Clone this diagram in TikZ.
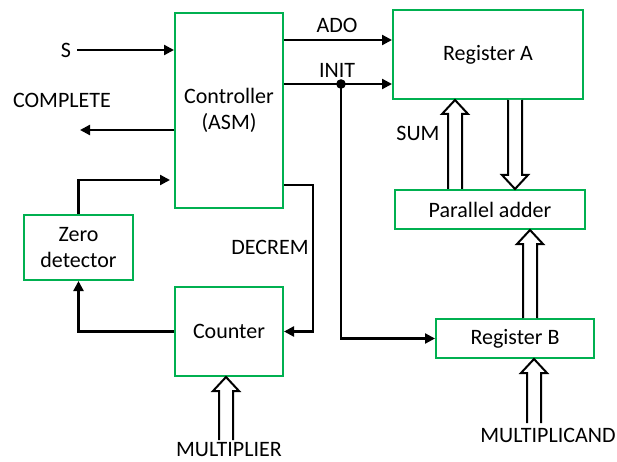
\documentclass[tikz,border=0pt]{standalone}
\usepackage{fontspec}
\setmainfont{Carlito}
\usetikzlibrary{arrows.meta,calc}
\definecolor{boxgreen}{RGB}{0,176,80}
\newcommand{\blockarrow}[2]{%
  \draw[hol] let \p1=#1, \p2=#2, \n1={\y2-sign(\y2-\y1)*14pt} in
  (\x1-7pt,\y1) -- (\x1-7pt,{\n1*1pt}) -- (\x1-13pt,{\n1*1pt}) -- (\x1,\y2)
  -- (\x1+13pt,{\n1*1pt}) -- (\x1+7pt,{\n1*1pt}) -- (\x1+7pt,\y1);}
\begin{document}
\begin{tikzpicture}[x=1pt,y=-1pt,
  font=\fontsize{22}{26.5}\selectfont,
  blk/.style={draw=boxgreen,line width=2pt,inner sep=0pt,align=center},
  arr/.style={draw=black,line width=2.3pt,-{Triangle[length=10pt,width=10pt]}},
  hol/.style={draw=black,line width=2pt,line join=miter,fill=white},
  lbl/.style={inner sep=0pt}]
\useasboundingbox (0,0) rectangle (617,462);
% boxes
\node[blk,minimum width=108pt,minimum height=195pt] (ctr) at (229,110.5) {Controller\\(ASM)};
\node[blk,minimum width=190pt,minimum height=89pt] (ra) at (488,54.5) {Register A};
\node[blk,minimum width=190pt,minimum height=39pt] (pa) at (490,209.5) {Parallel adder};
\node[blk,minimum width=158pt,minimum height=39pt] (rb) at (515,338.5) {Register B};
\node[blk,minimum width=109pt,minimum height=65pt] (zd) at (78.5,247.5) {Zero\\detector};
\node[blk,minimum width=108pt,minimum height=89pt] (cnt) at (229,331.5) {Counter};
% labels
\node[lbl] (s) at (66,50) {S};
\node[lbl] (cmpl) at (62,100) {COMPLETE};
\node[lbl] (ado) at (337,25) {ADO};
\node[lbl] (init) at (337,70) {INIT};
\node[lbl] (dec) at (270,247) {DECREM};
\node[lbl] (sum) at (418,133) {SUM};
\node[lbl] (mpl) at (229,450) {MULTIPLIER};
\node[lbl] (mpc) at (548,435) {MULTIPLICAND};
% helper coordinates
\coordinate (cmpend) at (80,130);
\coordinate (zdin) at (0,180);
\coordinate (decc) at (313,185);
\coordinate (adoy) at (0,40);
\coordinate (j) at (341,84);
\coordinate (sumx) at (455,0);
\coordinate (dnx) at (515,0);
\coordinate (rbx) at (530,0);
\coordinate (mpcs) at (534,423);
\coordinate (mpls) at (226,440);
% connectors
\draw[arr] (s.east) ++(6pt,0) coordinate (sst) (sst) -- (ctr.west |- sst);
\draw[arr] (ctr.west |- cmpend) -- (cmpend);
\draw[arr,shorten >=4pt] (zd.north) |- (ctr.west |- zdin);
\draw[arr] (cnt.west) -| (zd.south);
\draw[arr] (ctr.east |- decc) -- (decc) |- (cnt.east);
\draw[arr] (ctr.east |- adoy) -- (ra.west |- adoy);
\draw[arr] (ctr.east |- j) -- (ra.west |- j);
\draw[arr] (j) |- (rb.west);
\fill (j) circle (4.8pt);
% block arrows
\blockarrow{(pa.north -| sumx)}{(ra.south -| sumx)}
\blockarrow{(ra.south -| dnx)}{(pa.north -| dnx)}
\blockarrow{(rb.north -| rbx)}{(pa.south -| rbx)}
\blockarrow{(mpcs)}{(rb.south -| mpcs)}
\blockarrow{(mpls)}{(cnt.south -| mpls)}
\end{tikzpicture}
\end{document}
